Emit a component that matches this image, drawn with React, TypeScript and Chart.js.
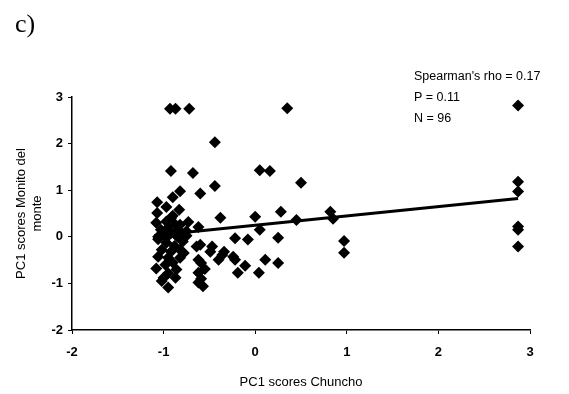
import React, { useEffect, useRef } from "react";
import { Chart, registerables } from "chart.js";

Chart.register(...registerables);

const pointsX: number[] = [
  -0.93, -0.87, -0.72, 0.35, -0.44, -0.92, -0.68, 0.05, 0.16, 0.5,
  -0.44, -0.82, -0.6, -0.9, -1.07, -0.97, -0.83, -1.07, -0.38, -0.73,
  -0.97, -0.82, -0.62, -0.75, -1.03, -0.92, -0.95, -1.06, -0.97, -0.82,
  -0.79, -1.06, -0.95, -0.92, -1.08, -0.86, -0.95, -1.0, -0.87, -0.95,
  -1.02, -0.64, -0.47, -0.49, -0.34, -0.62, -0.4, -0.24, -0.36, -0.22,
  -0.59, -0.55, -0.62, -0.59, -0.57, -0.11, -0.19, 0.04, 0.11, 0.25,
  0.25, -0.22, -0.08, 0.05, 0.0, 0.28, 0.45, 0.82, 0.85, 0.97,
  0.97, 2.87, 2.87, 2.87, 2.87, 2.87, 2.87, -1.06, -0.87, -0.84,
  -0.81, -0.9, -0.92, -0.95, -1.0, -0.88, -1.02, -0.9, -0.98, -0.82,
  -0.62, -0.85, -0.75, -1.08, -0.6, -0.78,
];
const pointsY: number[] = [
  2.75, 2.75, 2.75, 2.76, 2.03, 1.41, 1.37, 1.43, 1.41, 1.16,
  1.09, 0.98, 0.93, 0.85, 0.74, 0.64, 0.58, 0.51, 0.41, 0.32,
  0.33, 0.26, 0.21, 0.12, 0.15, 0.08, 0.02, -0.05, -0.13, -0.28,
  -0.1, -0.43, -0.45, -0.32, -0.68, -0.7, -0.78, -0.88, -0.88, -1.09,
  -0.95, -0.21, -0.21, -0.32, -0.32, -0.49, -0.49, -0.43, -0.39, -0.49,
  -0.56, -0.69, -0.77, -0.9, -1.06, -0.62, -0.77, -0.77, -0.49, -0.56,
  -0.02, -0.03, -0.06, 0.15, 0.43, 0.54, 0.36, 0.54, 0.39, -0.09,
  -0.34, 2.82, 1.18, 0.97, 0.22, 0.15, -0.21, 0.0, 0.26, 0.15,
  -0.06, 0.45, 0.4, 0.2, 0.05, -0.2, -0.28, -0.55, -0.6, -0.45,
  -0.98, 0.0, 0.02, 0.3, -0.17, -0.35,
];
const trendX: number[] = [-1.1, 2.87];
const trendY: number[] = [0.03, 0.82];
const statsLines: string[] = ["Spearman's rho = 0.17", "P = 0.11", "N = 96"];
const panelLabel = "c)";
const xTitle = "PC1 scores Chuncho";
const yTitle: string[] = ["PC1 scores Monito del", "monte"];

const textPlugin = {
  id: "extraText",
  afterDraw(chart: any) {
    const ctx = chart.ctx;
    ctx.save();
    ctx.fillStyle = "#000";
    ctx.font = "26px 'Liberation Serif', serif";
    ctx.textBaseline = "alphabetic";
    ctx.textAlign = "left";
    ctx.fillText(panelLabel, 15, 32);
    ctx.font = "12.5px 'Liberation Sans', Arial, sans-serif";
    const ys = [80, 101, 122];
    statsLines.forEach((t, i) => ctx.fillText(t, 414, ys[i]));
    ctx.restore();
  },
};

export default function App() {
  const ref = useRef<HTMLCanvasElement | null>(null);
  useEffect(() => {
    if (!ref.current) return;
    const scatter = pointsX.map((x, i) => ({ x, y: pointsY[i] }));
    const trend = trendX.map((x, i) => ({ x, y: trendY[i] }));
    const font = { family: "'Liberation Sans', Arial, sans-serif", size: 13 };
    const chart = new Chart(ref.current, {
      type: "scatter",
      data: {
        datasets: [
          {
            type: "line",
            data: trend,
            borderColor: "#000",
            borderWidth: 3,
            pointRadius: 0,
            fill: false,
          } as any,
          {
            data: scatter,
            pointStyle: "rectRot",
            pointRadius: 6,
            backgroundColor: "#000",
            borderColor: "#000",
            borderWidth: 0,
          },
        ],
      },
      plugins: [textPlugin],
      options: {
        animation: false,
        responsive: false,
        maintainAspectRatio: false,
        layout: { padding: { top: 97, right: 39, bottom: 0, left: 0 } },
        plugins: { legend: { display: false }, tooltip: { enabled: false } },
        scales: {
          x: {
            type: "linear",
            min: -2,
            max: 3,
            ticks: { stepSize: 1, color: "#000", font: { ...font, weight: "bold" }, padding: 11 },
            grid: { display: true, drawOnChartArea: false, tickLength: 4, color: "#000" },
            border: { display: true, color: "#000", width: 1.5 },
            title: { display: true, text: xTitle, color: "#000", font, padding: { top: 12, bottom: 4 } },
            afterFit: (s: any) => { s.height = 64; },
          },
          y: {
            type: "linear",
            min: -2,
            max: 3,
            ticks: { stepSize: 1, color: "#000", font: { ...font, weight: "bold" }, padding: 5 },
            grid: { display: true, drawOnChartArea: false, tickLength: 4, color: "#000" },
            border: { display: true, color: "#000", width: 1.5 },
            title: { display: true, text: yTitle, color: "#000", font, padding: { top: 14, bottom: 4 } },
            afterFit: (s: any) => { s.width = 72; },
          },
        },
      } as any,
    });
    return () => chart.destroy();
  }, []);
  return (
    <div style={{ position: "absolute", left: 0, top: 0, width: 569, height: 394, background: "#fff" }}>
      <canvas ref={ref} width={569} height={394} style={{ width: 569, height: 394 }} />
    </div>
  );
}
